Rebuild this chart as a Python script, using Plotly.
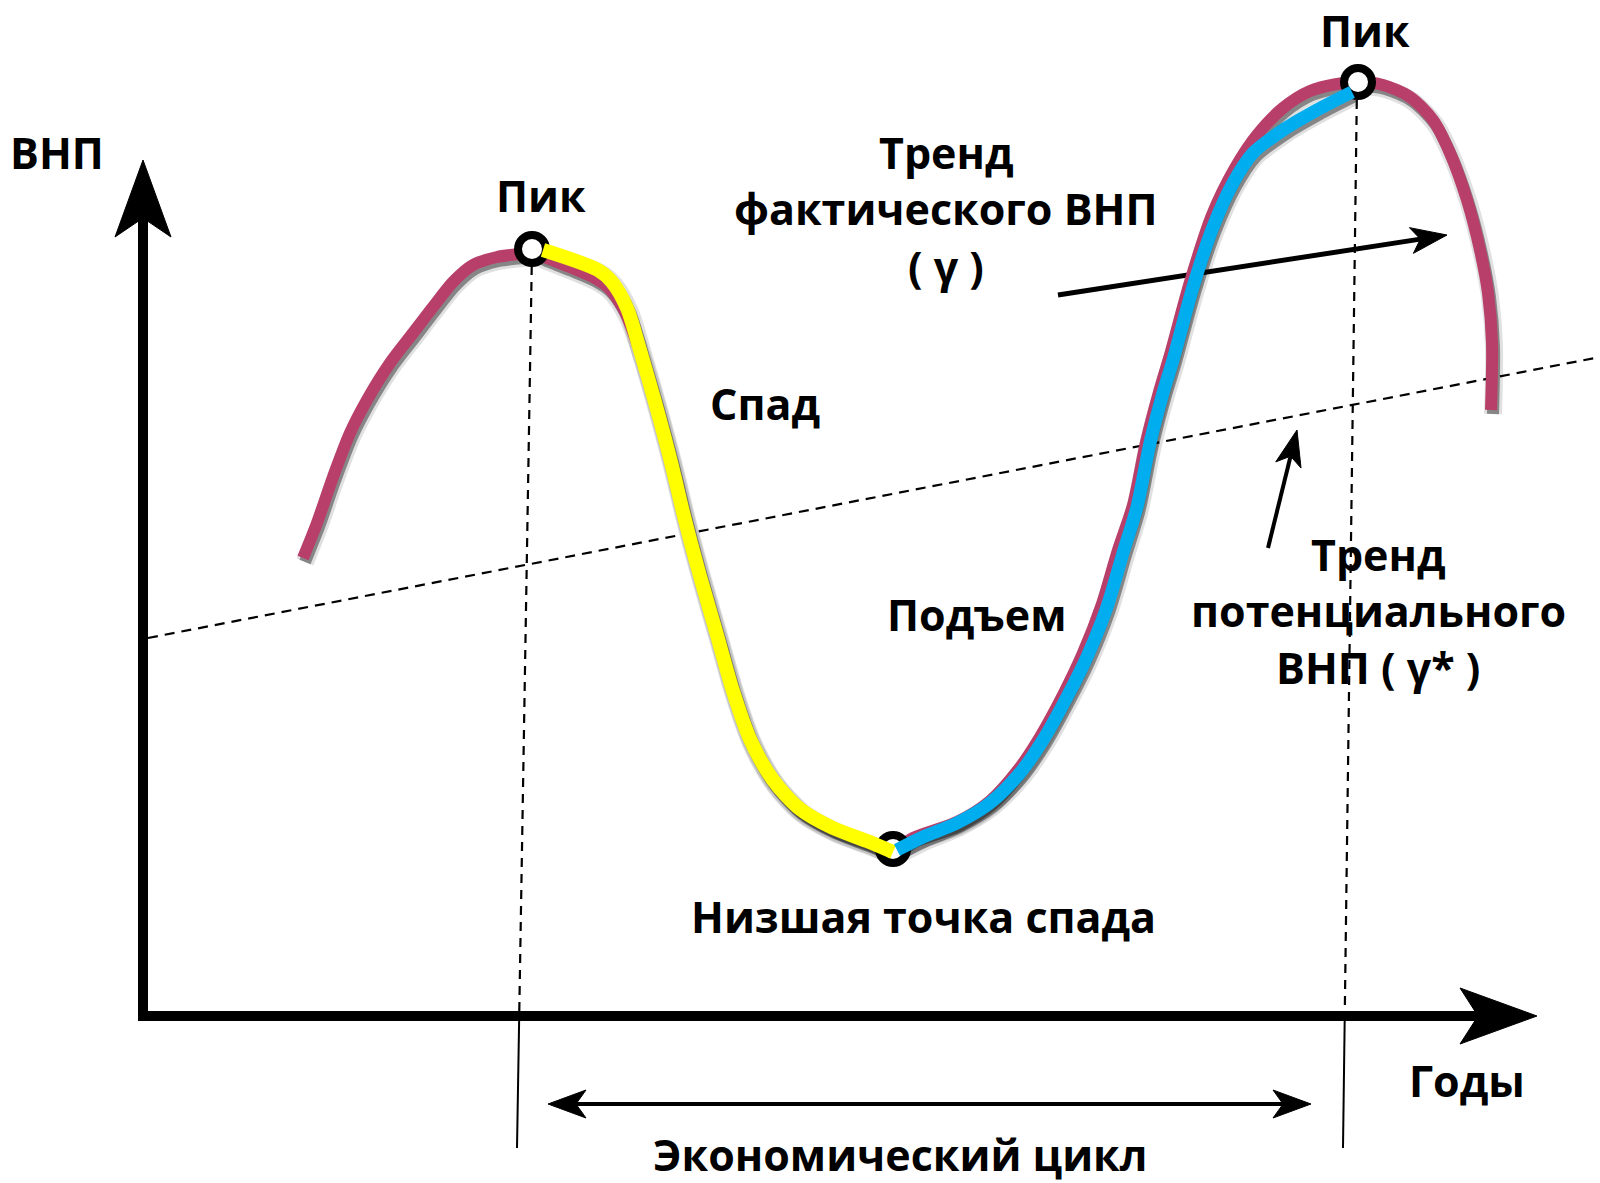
import numpy as np
import plotly.graph_objects as go

W, H = 1600, 1183

# %% Data (picture coordinates, y grows downward)
# actual GNP over the whole picture (magenta)
gnp_x = [303, 317, 333, 350, 367, 390, 413, 433, 453, 473, 497, 520, 532, 547, 570, 593, 609,
         625, 640, 655, 670, 685, 700, 717, 733, 750, 773, 800, 833, 867, 893,
         913, 957, 990, 1018, 1040, 1063, 1083, 1102, 1118, 1133, 1146, 1159, 1170, 1190,
         1212, 1235, 1257, 1283, 1310, 1337, 1357, 1383, 1410, 1433, 1450, 1467, 1480,
         1488, 1492, 1491]
gnp_y = [558, 523, 477, 433, 400, 363, 333, 307, 282, 265, 257, 254, 252, 258, 267, 277, 288,
         312, 352, 402, 458, 520, 576, 635, 691, 739, 780, 809, 828, 841, 850,
         838, 822, 801, 770, 737, 695, 653, 604, 550, 505, 442, 392, 355, 282,
         215, 168, 135, 108, 91, 84, 82, 85, 97, 120, 153, 200, 250,
         293, 343, 410]

# recession (yellow)
down_x = [543, 598, 612, 627, 640, 655, 670, 685, 700, 717, 733, 750, 773, 800, 833, 867, 893]
down_y = [250, 270, 282, 308, 350, 402, 458, 520, 576, 635, 691, 739, 780, 809, 828, 841, 852]

# recovery (blue)
up_x = [897, 923, 957, 990, 1020, 1043, 1067, 1087, 1107, 1123, 1137, 1150, 1163, 1173, 1193,
        1213, 1233, 1253, 1283, 1317, 1352]
up_y = [850, 837, 823, 803, 773, 740, 697, 657, 607, 553, 507, 443, 393, 360, 287,
        227, 183, 153, 130, 110, 92]

# turning points: peak, trough, peak
turn_x = [532, 893, 1358]
turn_y = [249, 849, 82]

# potential GNP trend (dashed)
trend_x = [148, 1600]
trend_y = [638, 357]

# vertical guides through the two peaks
guide_left_x, guide_left_y = [532, 517], [250, 1148]
guide_right_x, guide_right_y = [1357, 1343], [84, 1148]

# axes
axis_origin = (143, 1016)
y_axis_tip = (143, 160)
x_axis_tip = (1537, 1016)

# arrows
cycle_arrow_x, cycle_arrow_y = [548, 1311], [1104, 1104]
actual_arrow_x, actual_arrow_y = [1058, 1447], [295, 235]
potential_arrow_x, potential_arrow_y = [1268, 1297], [548, 430]

# labels
labels = [
    ("ВНП", 57, 152),
    ("Пик", 541, 195),
    ("Пик", 1365, 30),
    ("Тренд", 946, 152),
    ("фактического ВНП", 946, 208),
    ("( γ )", 946, 266),
    ("Спад", 765, 403),
    ("Подъем", 976, 614),
    ("Тренд", 1378, 554),
    ("потенциального", 1378, 610),
    ("ВНП ( γ* )", 1378, 667),
    ("Низшая точка спада", 923, 916),
    ("Годы", 1467, 1080),
    ("Экономический цикл", 900, 1154),
]

MAGENTA = "#B83F6A"
YELLOW = "#FFFF00"
BLUE = "#00AEEF"


def head(tail, tip, length, half, notch):
    (x0, y0), (x1, y1) = tail, tip
    u = np.array([x1 - x0, y1 - y0], dtype=float)
    u /= np.hypot(*u)
    p = np.array([-u[1], u[0]])
    t = np.array([x1, y1], dtype=float)
    b = t - length * u
    n = t - (length - notch) * u
    pts = [t, b + half * p, n, b - half * p, t]
    return [q[0] for q in pts], [q[1] for q in pts], n


fig = go.Figure()


def line(x, y, color, width, dash=None, shape="linear"):
    fig.add_trace(go.Scatter(x=x, y=y, mode="lines", hoverinfo="skip",
                             line=dict(color=color, width=width, dash=dash, shape=shape,
                                       smoothing=0.8)))


def poly(x, y, color="black"):
    fig.add_trace(go.Scatter(x=x, y=y, mode="lines", fill="toself", fillcolor=color,
                             line=dict(color=color, width=1), hoverinfo="skip"))


def arrow(xs, ys, width, length, half, notch, both=False):
    tail, tip = (xs[0], ys[0]), (xs[1], ys[1])
    hx, hy, n = head(tail, tip, length, half, notch)
    start = tail
    if both:
        hx2, hy2, n2 = head(tip, tail, length, half, notch)
        poly(hx2, hy2)
        start = tuple(n2)
    line([start[0], n[0]], [start[1], n[1]], "black", width)
    poly(hx, hy)


# dashed potential trend
line(trend_x, trend_y, "black", 2.2, dash="10px,7px")

# peak guides: dashed above the time axis, solid below it
for gx, gy in [(guide_left_x, guide_left_y), (guide_right_x, guide_right_y)]:
    xa = np.interp(axis_origin[1], gy, gx)
    line([gx[0], xa], [gy[0], axis_origin[1]], "black", 2.2, dash="9px,7px")
    line([xa, gx[1]], [axis_origin[1], gy[1]], "black", 2)

# axes
yx, yy, yn = head(axis_origin, y_axis_tip, 77, 28, 19)
line([axis_origin[0], axis_origin[0]], [axis_origin[1] + 5, yn[1]], "black", 10)
poly(yx, yy)
xx, xy, xn = head(axis_origin, x_axis_tip, 77, 28, 18)
line([axis_origin[0] - 5, xn[0]], [axis_origin[1], axis_origin[1]], "black", 10)
poly(xx, xy)

# arrows
arrow(cycle_arrow_x, cycle_arrow_y, 4, 38, 14, 10, both=True)
arrow(actual_arrow_x, actual_arrow_y, 5, 36, 13, 9)
arrow(potential_arrow_x, potential_arrow_y, 4, 36, 13, 9)

# soft shadows under the curves
for cx, cy, w in [(gnp_x, gnp_y, 12), (down_x, down_y, 14), (up_x, up_y, 13)]:
    sx = [v + 2 for v in cx]
    sy = [v + 4 for v in cy]
    line(sx, sy, "rgba(0,0,0,0.12)", w + 6, shape="spline")
    line(sx, sy, "rgba(0,0,0,0.4)", w, shape="spline")

line(gnp_x, gnp_y, MAGENTA, 12, shape="spline")

fig.add_trace(go.Scatter(x=turn_x, y=turn_y, mode="markers", hoverinfo="skip",
                         marker=dict(symbol="circle", size=28, color="white",
                                     line=dict(color="black", width=8))))

line(down_x, down_y, YELLOW, 14, shape="spline")
line(up_x, up_y, BLUE, 13, shape="spline")

for text, x, y in labels:
    fig.add_annotation(x=x, y=y, text=text, showarrow=False, xanchor="center", yanchor="middle",
                       font=dict(family="Open Sans", size=43, color="black", weight=700))

fig.update_layout(
    width=W, height=H, autosize=False,
    margin=dict(l=0, r=0, t=0, b=0),
    paper_bgcolor="white", plot_bgcolor="white",
    showlegend=False,
    xaxis=dict(range=[0, W], visible=False, fixedrange=True),
    yaxis=dict(range=[H, 0], visible=False, fixedrange=True),
)

fig.write_html("out.html", config={"displayModeBar": False},
               post_script="document.body.style.margin='0';")
